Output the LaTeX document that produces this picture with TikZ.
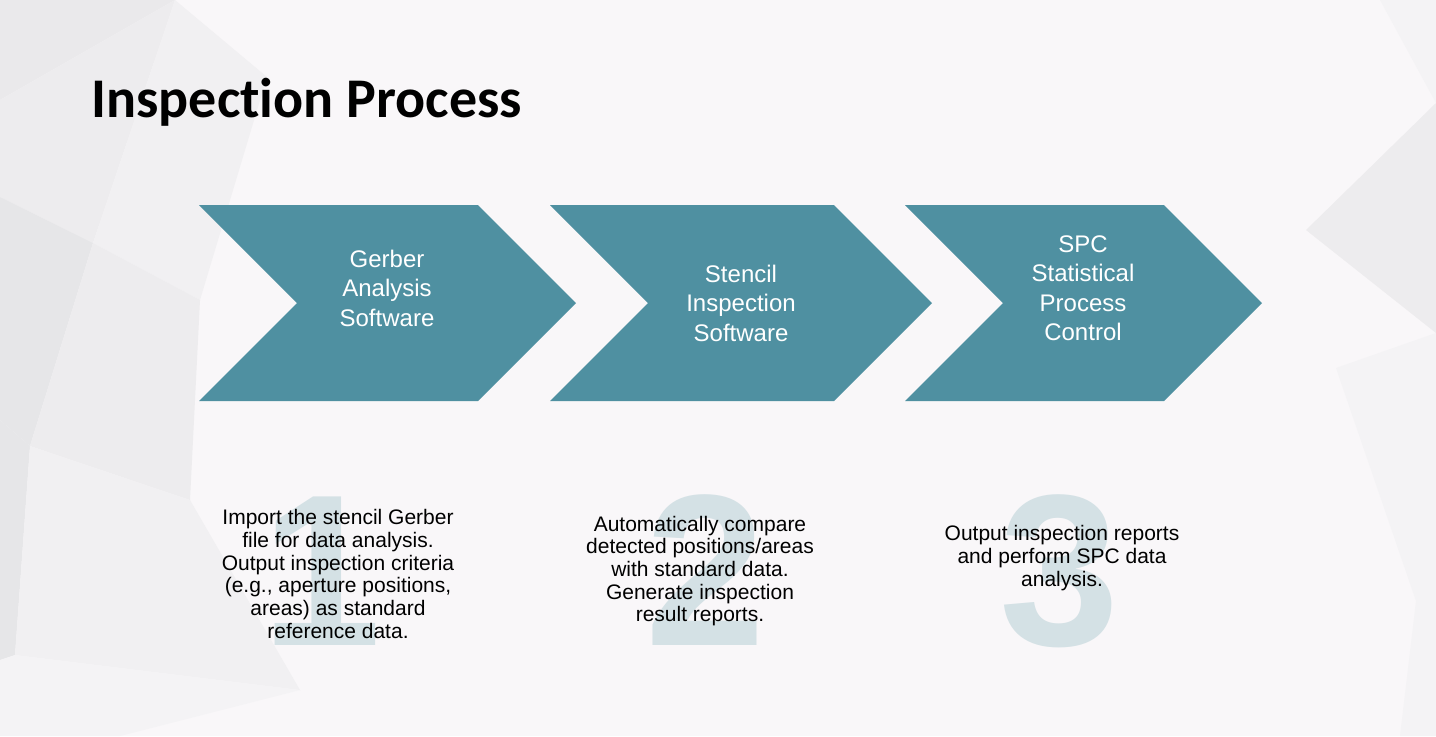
\documentclass[tikz,border=0pt]{standalone}
\usepackage{fontspec}
\setmainfont{Liberation Sans}
\newfontfamily\titlefont[Ligatures=NoCommon]{Carlito}
\usetikzlibrary{positioning}

\definecolor{stepteal}{HTML}{4F90A1}
\definecolor{bignum}{HTML}{D4E1E5}
\definecolor{bgbase}{HTML}{F9F7F9}
\definecolor{bgA}{HTML}{EAE9EB}
\definecolor{bgB}{HTML}{EDECEE}
\definecolor{bgC}{HTML}{E6E6E8}
\definecolor{bgD}{HTML}{F1F0F2}
\definecolor{bgE}{HTML}{F4F3F5}

\tikzset{
	stepfill/.style={fill=stepteal},
	steplabel/.style={text=white, align=center, inner sep=0pt, font=\fontsize{12}{14.75}\selectfont},
	stepnote/.style={text=black, align=center, inner sep=0pt, font=\fontsize{10.5}{11.35}\selectfont},
	stepnum/.style={text=bignum, inner sep=0pt, anchor=base, font=\fontsize{108}{108}\selectfont\bfseries}
}

% one chevron: left edge, right edge of the top side
\newcommand{\chevron}[2]{\fill[stepfill] (#1,205) -- (#2,205) -- ++(98,98) -- (#2,401) -- (#1,401) -- ++(98,-98) -- cycle;}

\begin{document}
\begin{tikzpicture}[x=0.5pt,y=-0.5pt]
	% background
	\fill[bgbase] (0,0) rectangle (1436,736);
	\fill[bgA] (0,0) -- (175,0) -- (0,100) -- cycle;
	\fill[bgB] (0,100) -- (175,0) -- (93,243) -- (0,197) -- cycle;
	\fill[bgD] (175,0) -- (267,77) -- (200,300) -- (93,243) -- cycle;
	\fill[bgC] (0,197) -- (93,243) -- (30,446) -- (0,420) -- cycle;
	\fill[bgB] (93,243) -- (200,300) -- (190,500) -- (30,446) -- cycle;
	\fill[bgC] (0,420) -- (30,446) -- (15,655) -- (0,660) -- cycle;
	\fill[bgD] (30,446) -- (190,500) -- (300,690) -- (15,655) -- cycle;
	\fill[bgE] (0,660) -- (15,655) -- (300,690) -- (120,736) -- (0,736) -- cycle;
	\fill[bgE] (1380,0) -- (1436,0) -- (1436,103) -- cycle;
	\fill[bgB] (1436,103) -- (1306,230) -- (1436,333) -- cycle;
	\fill[bgE] (1336,368) -- (1436,333) -- (1436,736) -- (1400,736) -- (1416,601) -- cycle;
	\useasboundingbox (0,0) rectangle (1436,736);

	% title
	\node[anchor=base west, inner sep=0pt, font=\titlefont\fontsize{28}{30}\selectfont\bfseries] (title) at (91,117) {Inspection Process};

	% chevrons
	\chevron{199}{478}
	\chevron{550}{834}
	\chevron{905}{1164}
	\node[steplabel] (gerber) at (387,288) {Gerber\\Analysis\\Software};
	\node[steplabel] (stencil) at (741,303) {Stencil\\Inspection\\Software};
	\node[steplabel] (spc) at (1083,288) {SPC\\Statistical\\Process\\Control};

	% big step numbers
	\node[stepnum] (num1) at (322,645) {1};
	\node[stepnum] (num2) at (706,645) {2};
	\node[stepnum] (num3) at (1060,645) {3};

	% notes
	\node[stepnote] (note1) at (338,574) {Import the stencil Gerber\\file for data analysis.\\Output inspection criteria\\(e.g., aperture positions,\\areas) as standard\\reference data.};
	\node[stepnote] (note2) at (700,571) {Automatically compare\\detected positions/areas\\with standard data.\\Generate inspection\\result reports.};
	\node[stepnote] (note3) at (1062,558) {Output inspection reports\\and perform SPC data\\analysis.};
\end{tikzpicture}
\end{document}
